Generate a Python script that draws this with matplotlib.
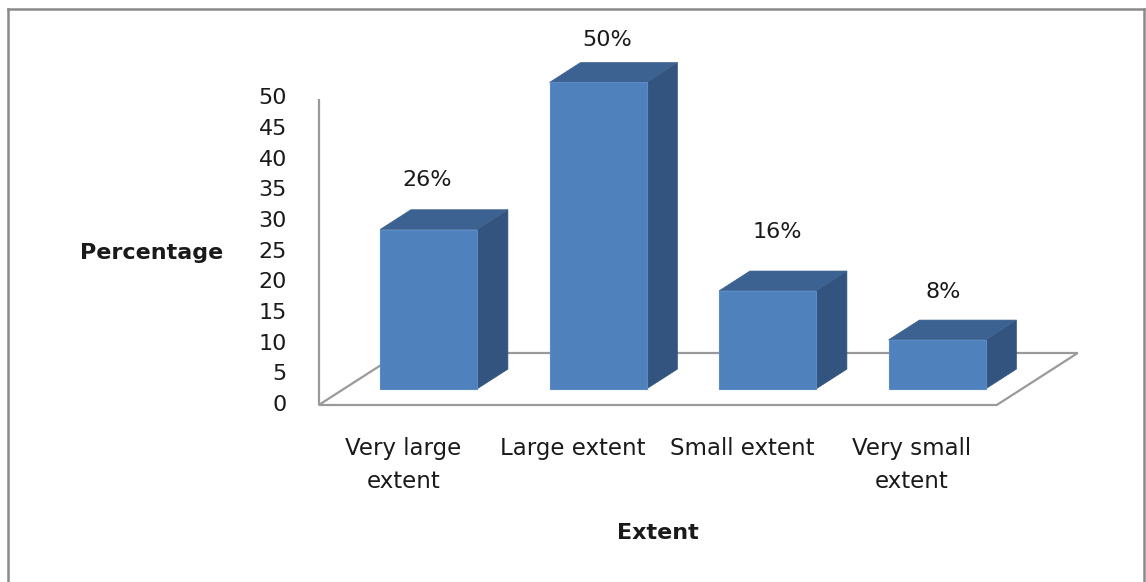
import matplotlib
matplotlib.use("Agg")
import matplotlib.pyplot as plt
from matplotlib.patches import Polygon
from matplotlib.lines import Line2D
import numpy as np

# ---- data ----
categories = ["Very large\nextent", "Large extent", "Small extent", "Very small\nextent"]
values = [26, 50, 16, 8]
value_labels = ["26%", "50%", "16%", "8%"]
yticks = [0, 5, 10, 15, 20, 25, 30, 35, 40, 45, 50]
x_title = "Extent"
y_title = "Percentage"

# ---- layout / style ----
W, H = 1146, 582
DPI = 100
PX_X = 169.5          # pixels per category unit
PX_Y = 6.13           # pixels per value unit
X0_PX = 403.5         # pixel x of category 0 (floor front)
Y0_PX = 405.0         # pixel y (from top) of value 0
FLOOR_DX = 81 / PX_X  # floor depth offset (x, data units)
FLOOR_DY = 52 / PX_Y  # floor depth offset (y, data units)
D0, D1 = 0.31, 0.69   # bar depth range
BAR_W = 97 / PX_X
LABEL_GAP_PX = [50, 42, 59, 48]   # data-label gap above bar front top (layout)
LABEL_DX_PX = [-1, 9, 10, 6]      # data-label horizontal nudge (layout)
C_FRONT = "#4F81BD"
C_SIDE = "#32547E"
C_TOP = "#3B6290"
GRID_C = "#9a9a9a"
FS = 16
TXT = "#1a1a1a"

fig = plt.figure(figsize=(W / DPI, H / DPI), dpi=DPI)
ax = fig.add_axes([0, 0, 1, 1])
ax.set_xlim(-X0_PX / PX_X, (W - X0_PX) / PX_X)
ax.set_ylim(-(H - Y0_PX) / PX_Y, Y0_PX / PX_Y)
ax.axis("off")

xs = np.arange(len(values))

# floor
fx0, fx1 = xs[0] - 0.5, xs[-1] + 0.5
floor = Polygon([(fx0, 0), (fx1, 0), (fx1 + FLOOR_DX, FLOOR_DY), (fx0 + FLOOR_DX, FLOOR_DY)],
                closed=True, facecolor="white", edgecolor=GRID_C, lw=1.6, zorder=1)
ax.add_patch(floor)
# vertical axis line
ax.plot([fx0, fx0], [0, yticks[-1]], color=GRID_C, lw=1.6, zorder=1, solid_capstyle="butt")

# bars
dd = D1 - D0
ddx, ddy = dd * FLOOR_DX, dd * FLOOR_DY
for x, v, lab, gap, ndx in zip(xs, values, value_labels, LABEL_GAP_PX, LABEL_DX_PX):
    cx = x + D0 * FLOOR_DX
    yb = D0 * FLOOR_DY
    xl, xr = cx - BAR_W / 2, cx + BAR_W / 2
    yt = yb + v
    side = Polygon([(xr, yb), (xr + ddx, yb + ddy), (xr + ddx, yt + ddy), (xr, yt)],
                   closed=True, facecolor=C_SIDE, edgecolor=C_SIDE, lw=0.5, zorder=3)
    top = Polygon([(xl, yt), (xr, yt), (xr + ddx, yt + ddy), (xl + ddx, yt + ddy)],
                  closed=True, facecolor=C_TOP, edgecolor=C_TOP, lw=0.5, zorder=3)
    front = Polygon([(xl, yb), (xr, yb), (xr, yt), (xl, yt)],
                    closed=True, facecolor=C_FRONT, edgecolor="#5a8bc6", lw=0.8, zorder=4)
    for p in (side, top, front):
        ax.add_patch(p)
    ax.text(cx + ndx / PX_X, yt + gap / PX_Y, lab, ha="center", va="center",
            fontsize=FS, color=TXT, zorder=5)

# y tick labels
for t in yticks:
    ax.text(-(X0_PX - 287) / PX_X, t, str(t), ha="right", va="center",
            fontsize=FS, color=TXT)

# category labels
for x, c in zip(xs, categories):
    ax.text(x, -(437 - Y0_PX) / PX_Y, c, ha="center", va="top", fontsize=FS + 0.5,
            color=TXT, linespacing=1.55)

# axis titles
ax.text((xs[0] + xs[-1]) / 2, -(533 - Y0_PX) / PX_Y, x_title, ha="center", va="center",
        fontsize=FS, fontweight="bold", color=TXT)
ax.text(-(X0_PX - 223) / PX_X, (Y0_PX - 253) / PX_Y, y_title, ha="right", va="center",
        fontsize=FS, fontweight="bold", color=TXT)

# outer border (left, top, right)
bc = "#8a8a8a"
fig.add_artist(Line2D([8 / W, 8 / W], [0, 1 - 9 / H], transform=fig.transFigure, color=bc, lw=1.8))
fig.add_artist(Line2D([8 / W, 1144 / W], [1 - 9 / H, 1 - 9 / H], transform=fig.transFigure, color=bc, lw=1.8))
fig.add_artist(Line2D([1144 / W, 1144 / W], [0, 1 - 9 / H], transform=fig.transFigure, color=bc, lw=1.8))

fig.savefig("out.png", dpi=DPI)
